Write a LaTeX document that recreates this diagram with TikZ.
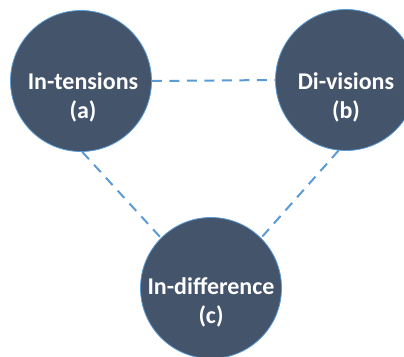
\documentclass[tikz,border=0pt]{standalone}
\usepackage{fontspec}
\setmainfont{Carlito}
\definecolor{discfill}{HTML}{44546A}
\definecolor{discline}{HTML}{5B9BD5}
\begin{document}
\begin{tikzpicture}[x=1pt,y=-1pt,
  disc/.style={circle, minimum size=141pt, inner sep=0pt, fill=discfill, draw=discline, line width=0.8pt},
  disclabel/.style={text=white, font=\fontsize{24}{29}\selectfont\bfseries, align=center, inner sep=0pt},
  link/.style={draw=discline, line width=2pt, dash pattern=on 10pt off 7.5pt}]
  \useasboundingbox (0,0) rectangle (404,356);
  % the three circles
  \node[disc] (a) at (81,81) {};
  \node[disc] (b) at (346,80) {};
  \node[disc] (c) at (211,288) {};
  % their captions
  \node[disclabel] (ta) at ([xshift=2pt,yshift=-16pt]a.center) {In-tensions\\(a)};
  \node[disclabel] (tb) at ([yshift=-17pt]b.center) {Di-visions\\(b)};
  \node[disclabel] (tc) at ([yshift=-14pt]c.center) {In-difference\\(c)};
  % dashed links between them
  \path[link] (a.0) -- (b.180);
  \path[link] (a.-89) -- (c.135);
  \path[link] (b.-96) -- (c.45);
\end{tikzpicture}
\end{document}
